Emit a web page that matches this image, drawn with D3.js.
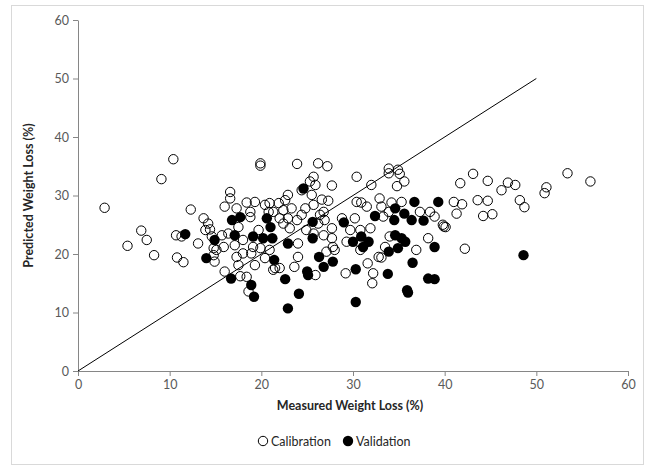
<!DOCTYPE html>
<html>
<head>
<meta charset="utf-8">
<script src="https://cdn.jsdelivr.net/npm/d3@7"></script>
<style>
  body { margin: 0; background: #fff; }
  svg { font-family: Lato, "Open Sans", sans-serif; }
</style>
</head>
<body>
<svg width="655" height="466"></svg>
<script>
// Calibration set: [measured, predicted] (%)
const calibration = [
  [10.4,36.2],[9.1,32.8],[2.9,27.9],[6.9,24.0],[7.5,22.4],[5.4,21.4],[8.3,19.8],[10.7,23.2],[11.3,23.0],[10.8,19.4],[11.5,18.6],[12.3,27.6],
  [19.9,35.5],[19.9,35.1],[16.6,30.6],[16.6,29.5],[16.0,28.1],[18.4,28.8],[19.3,28.9],[20.4,28.4],[17.3,27.8],[18.8,27.2],[20.9,28.7],[20.8,27.2],
  [13.7,26.1],[14.2,25.2],[18.8,26.3],[13.9,24.1],[14.4,24.2],[14.6,23.0],[15.7,23.2],[16.4,23.5],[13.1,21.8],[17.5,24.6],[18.0,22.4],[19.7,24.1],
  [19.1,21.2],[14.8,21.0],[15.9,21.2],[17.1,21.5],
  [14.8,19.8],[14.9,18.7],[15.1,20.7],[17.3,19.5],[17.5,18.1],[18.0,20.1],[18.9,20.1],[19.3,18.1],[20.4,19.3],[19.9,21.0],[20.9,20.7],[21.3,17.3],
  [16.0,17.0],[17.7,16.2],[18.4,16.1],[18.6,13.6],
  [23.9,35.4],[26.2,35.5],[27.2,35.0],[25.7,33.2],[25.3,32.4],[25.9,31.8],[24.4,30.9],[27.7,31.7],[30.4,33.2],[25.5,30.1],[22.9,30.1],[22.6,29.2],
  [21.9,28.7],[26.6,29.3],[27.3,29.1],[24.8,27.8],[25.7,28.4],[23.3,27.8],[22.4,27.5],[21.3,27.2],[22.0,26.1],[22.9,26.1],[23.9,25.8],[24.4,26.7],
  [26.4,26.7],[26.8,27.2],[26.2,25.2],[26.9,25.8],[27.7,24.4],[28.8,26.1],[29.7,24.1],[30.4,28.9],[30.2,26.1],[22.4,25.2],[23.1,24.4],[24.9,24.1],
  [25.7,23.5],[26.8,23.2],[27.7,22.7],[24.0,21.8],[29.3,22.1],[27.8,21.2],
  [27.1,20.4],[28.0,20.7],[24.0,19.5],[23.6,17.8],[25.9,16.4],[21.5,17.6],[22.0,17.6],[29.2,16.7],
  [33.9,34.6],[33.9,33.8],[34.9,34.4],[35.1,33.7],[35.6,32.4],[34.8,31.6],[32.0,31.8],[32.9,29.5],[34.2,28.8],[35.3,28.9],[30.9,28.8],[31.5,28.1],
  [33.1,28.1],[33.9,27.2],[37.3,27.2],[38.4,27.2],[38.9,26.4],[33.3,26.4],[39.8,25.0],[30.8,24.1],[31.9,24.4],[30.6,22.1],[30.8,20.7],[34.0,23.0],
  [33.5,21.2],[36.9,20.7],[38.2,22.7],[32.8,19.5],
  [31.6,18.4],[32.2,16.7],[32.1,15.0],[33.1,19.4],
  [43.1,33.7],[44.7,32.5],[41.7,32.1],[46.9,32.2],[47.7,31.8],[46.2,30.9],[51.1,31.4],[50.9,30.4],[53.4,33.8],[48.2,29.2],[48.7,28.0],[41.0,28.9],
  [41.9,28.5],[43.6,29.2],[44.7,29.1],[41.3,26.9],[44.2,26.5],[45.2,26.8],[39.9,24.7],[40.1,24.6],[42.2,20.9],
  [55.9,32.4]
];

// Validation set: [measured, predicted] (%)
const validation = [
  [11.7,23.4],[16.8,25.8],[17.7,26.3],[20.6,26.1],[14.9,22.4],[17.1,23.2],[19.1,23.0],[20.2,22.7],[21.0,24.6],[21.2,22.7],
  [14.0,19.3],[21.4,19.0],[16.7,15.8],[18.9,14.7],[19.2,12.7],[24.6,31.2],[25.6,25.5],[29.0,25.4],[25.6,22.7],[22.9,21.8],
  [30.0,22.1],[26.3,19.5],[26.8,17.8],[27.8,18.7],[25.0,17.0],[25.1,16.4],[22.6,15.7],[24.1,13.2],[22.9,10.7],[30.3,17.4],
  [30.3,11.8],[36.7,28.9],[39.3,28.9],[34.6,27.8],[35.6,26.9],[32.4,26.5],[34.5,25.8],[36.4,25.8],[37.7,25.7],[30.9,23.0],
  [31.7,22.1],[31.1,21.2],[34.6,23.2],[35.3,22.7],[35.7,22.1],[34.9,21.0],[33.9,20.4],[38.9,21.2],[33.8,16.6],[36.5,18.5],
  [38.2,15.8],[38.9,15.7],[35.9,13.8],[36.0,13.4],[48.6,19.8]
];

// 1:1 reference line
const oneToOne = [[0, 0], [50, 50]];

const xTicks = [0, 10, 20, 30, 40, 50, 60];
const yTicks = [0, 10, 20, 30, 40, 50, 60];

const svg = d3.select("svg");
const axisColor = "#868686";

// outer chart border
svg.append("rect")
  .attr("x", 11.5).attr("y", 5.5)
  .attr("width", 632).attr("height", 459)
  .attr("fill", "none")
  .attr("stroke", "#d9d9d9");

const x = d3.scaleLinear().domain([0, 60]).range([78, 628]);
const y = d3.scaleLinear().domain([0, 60]).range([371, 20]);

// axes
const xAxis = svg.append("g")
  .attr("transform", `translate(0,${y(0)})`)
  .call(d3.axisBottom(x).tickValues(xTicks).tickSize(5).tickSizeOuter(0).tickPadding(4));
const yAxis = svg.append("g")
  .attr("transform", `translate(${x(0)},0)`)
  .call(d3.axisLeft(y).tickValues(yTicks).tickSize(5).tickSizeOuter(0).tickPadding(4));

[xAxis, yAxis].forEach(a => {
  a.select(".domain").attr("stroke", axisColor);
  a.selectAll(".tick line").attr("stroke", axisColor);
  a.selectAll(".tick text")
    .attr("fill", "#595959")
    .style("font-size", "12.5px")
    .style("font-family", "Lato, 'Open Sans', sans-serif");
});

// axis titles
svg.append("text")
  .attr("x", 350).attr("y", 410)
  .attr("text-anchor", "middle")
  .attr("font-weight", "bold")
  .attr("font-size", 12.5)
  .attr("fill", "#262626")
  .text("Measured Weight Loss (%)");

svg.append("text")
  .attr("transform", `translate(33,${y(30)}) rotate(-90)`)
  .attr("text-anchor", "middle")
  .attr("font-weight", "bold")
  .attr("font-size", 12.5)
  .attr("fill", "#262626")
  .text("Predicted Weight Loss (%)");

// 1:1 line
svg.append("path")
  .datum(oneToOne)
  .attr("fill", "none")
  .attr("stroke", "#000")
  .attr("stroke-width", 1)
  .attr("d", d3.line().x(d => x(d[0])).y(d => y(d[1])));

// points
svg.append("g").selectAll("circle")
  .data(calibration)
  .join("circle")
  .attr("cx", d => x(d[0]))
  .attr("cy", d => y(d[1]))
  .attr("r", 4.7)
  .attr("fill", "none")
  .attr("stroke", "#000")
  .attr("stroke-width", 1);

svg.append("g").selectAll("circle")
  .data(validation)
  .join("circle")
  .attr("cx", d => x(d[0]))
  .attr("cy", d => y(d[1]))
  .attr("r", 5.2)
  .attr("fill", "#000");

// legend
const legend = svg.append("g").attr("transform", "translate(0,441)");
legend.append("circle").attr("cx", 263).attr("cy", 0).attr("r", 4.7)
  .attr("fill", "none").attr("stroke", "#000");
legend.append("text").attr("x", 271).attr("y", 4.5)
  .attr("font-size", 12.5).attr("fill", "#262626").text("Calibration");
legend.append("circle").attr("cx", 348).attr("cy", 0).attr("r", 5.2)
  .attr("fill", "#000");
legend.append("text").attr("x", 356).attr("y", 4.5)
  .attr("font-size", 12.5).attr("fill", "#262626").text("Validation");
</script>
</body>
</html>
